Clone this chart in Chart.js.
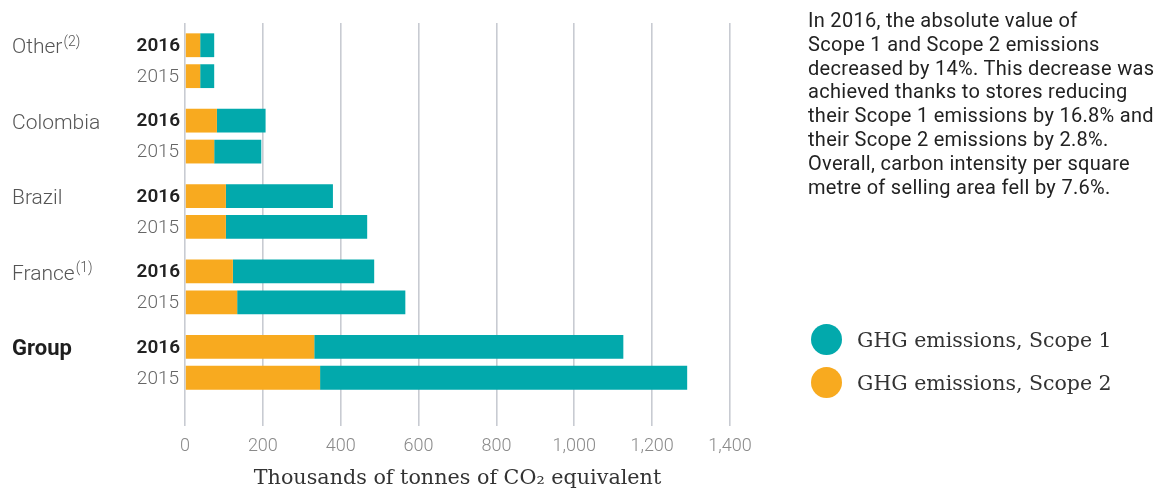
<!DOCTYPE html>
<html>
<head>
<meta charset="utf-8">
<script src="https://cdn.jsdelivr.net/npm/chart.js@4.4.1/dist/chart.umd.min.js"></script>
<style>
  html, body { margin: 0; padding: 0; background: #fff; }
  #wrap { position: relative; width: 1166px; height: 493px; overflow: hidden; }
  #note {
    position: absolute; left: 808px; top: 9px; white-space: nowrap;
    font-family: Roboto, 'Noto Sans', sans-serif; font-size: 20px; line-height: 23.8px;
    letter-spacing: 0.3px; color: #222;
  }
  #legend { position: absolute; left: 811px; top: 318px; }
  .leg-item {
    display: flex; align-items: center; height: 43px;
    font-family: 'DejaVu Serif', 'Liberation Serif', serif; font-size: 20.5px; color: #333;
  }
  .leg-dot { width: 31px; height: 31px; border-radius: 50%; margin-right: 15px; }
</style>
</head>
<body>
<div id="wrap">
  <canvas id="ghg-chart"></canvas>
  <div id="note">In 2016, the absolute value of<br>Scope 1 and Scope 2 emissions<br>decreased by 14%. This decrease was<br>achieved thanks to stores reducing<br>their Scope 1 emissions by 16.8% and<br>their Scope 2 emissions by 2.8%.<br>Overall, carbon intensity per square<br>metre of selling area fell by 7.6%.</div>
  <div id="legend"></div>
</div>
<script>
// GHG emissions by region, thousands of tonnes CO2e
const countries = ['Other', 'Colombia', 'Brazil', 'France', 'Group'];
const footnotes = ['(2)', '', '', '(1)', ''];
const years = ['2016', '2015'];

const scope1_2016 = [36, 125, 275, 363, 794];
const scope2_2016 = [39, 82, 105, 123, 332];
const scope1_2015 = [36, 121, 363, 432, 943];
const scope2_2015 = [39, 75, 105, 134, 347];

const xTicksMax = 1400;
const xTicksStep = 200;

const TEAL = '#02a9ac';
const ORANGE = '#f8aa1f';
const GRID = '#c8cbd2';

// legend (HTML, right column)
const legendItems = [
    { label: 'GHG emissions, Scope 1', color: TEAL },
    { label: 'GHG emissions, Scope 2', color: ORANGE }
];
document.getElementById('legend').innerHTML = legendItems.map(it =>
    `<div class="leg-item"><span class="leg-dot" style="background:${it.color}"></span>${it.label}</div>`
).join('');

// country names + year labels next to each bar
const rowLabels = {
    id: 'rowLabels',
    afterDatasetsDraw(chart) {
        const ctx = chart.ctx;
        const left = chart.chartArea.left;
        const m16 = chart.getDatasetMeta(0);
        const m15 = chart.getDatasetMeta(2);
        ctx.save();
        ctx.textBaseline = 'middle';
        countries.forEach((name, i) => {
            const y16 = m16.data[i].y;
            const y15 = m15.data[i].y;

            // year labels
            ctx.textAlign = 'right';
            ctx.fillStyle = '#222';
            ctx.font = '600 19px Roboto, sans-serif';
            ctx.fillText(years[0], left - 5, y16 + 1);
            ctx.fillStyle = '#666';
            ctx.font = '300 19px Roboto, sans-serif';
            ctx.fillText(years[1], left - 6, y15 + 1);

            // country
            ctx.textAlign = 'left';
            const isGroup = name === 'Group';
            ctx.font = isGroup ? 'bold 22px Roboto, sans-serif' : '300 21px Roboto, sans-serif';
            ctx.fillStyle = isGroup ? '#1e1e1e' : '#555';
            ctx.fillText(name, 12, y16 + 3);
            if (footnotes[i]) {
                const w = ctx.measureText(name).width;
                ctx.font = '300 14px Roboto, sans-serif';
                ctx.fillText(footnotes[i], 12 + w + 1, y16 - 3);
            }
        });
        ctx.restore();
    }
};

new Chart(document.getElementById('ghg-chart'), {
    type: 'bar',
    data: {
        labels: countries,
        datasets: [
            { label: 'Scope 2 2016', data: scope2_2016, backgroundColor: ORANGE, stack: '2016' },
            { label: 'Scope 1 2016', data: scope1_2016, backgroundColor: TEAL, stack: '2016' },
            { label: 'Scope 2 2015', data: scope2_2015, backgroundColor: ORANGE, stack: '2015' },
            { label: 'Scope 1 2015', data: scope1_2015, backgroundColor: TEAL, stack: '2015' }
        ]
    },
    options: {
        indexAxis: 'y',
        responsive: true,
        maintainAspectRatio: false,
        animation: false,
        layout: { padding: { left: 185, right: 436, top: 23, bottom: 0 } },
        datasets: {
            bar: { categoryPercentage: 0.82, barPercentage: 0.77, borderWidth: 0 }
        },
        scales: {
            x: {
                stacked: true,
                min: 0,
                max: xTicksMax,
                ticks: {
                    stepSize: xTicksStep,
                    color: '#8a8a8a',
                    padding: 10,
                    font: { family: 'Roboto, sans-serif', size: 18, weight: '300' }
                },
                grid: { color: GRID, lineWidth: 1.6, tickLength: 26, tickColor: GRID },
                border: { display: false },
                title: {
                    display: true,
                    text: 'Thousands of tonnes of CO₂ equivalent',
                    color: '#333',
                    font: { family: 'DejaVu Serif, Liberation Serif, serif', size: 20.7 },
                    padding: { top: 0, bottom: 2 }
                },
                afterFit(scale) { scale.height = 93; }
            },
            y: {
                stacked: true,
                display: false
            }
        },
        plugins: {
            legend: { display: false },
            tooltip: { enabled: false }
        }
    },
    plugins: [rowLabels]
});
</script>
</body>
</html>
